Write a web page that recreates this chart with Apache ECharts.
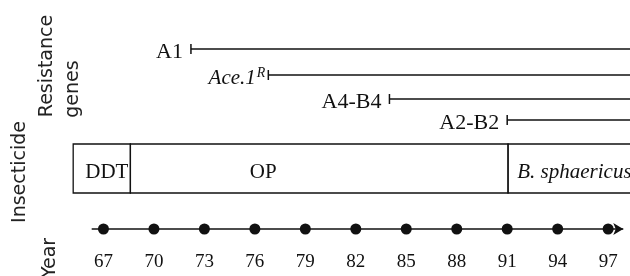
<!DOCTYPE html>
<html>
<head>
<meta charset="utf-8">
<script src="https://cdn.jsdelivr.net/npm/echarts@6/dist/echarts.min.js"></script>
<style>
  html, body { margin: 0; background: #fff; }
  #main { width: 630px; height: 276px; }
</style>
</head>
<body>
<div id="main"></div>
<script>
// 年份刻度
const years = [67, 70, 73, 76, 79, 82, 85, 88, 91, 94, 97]
const yearLabels = ['67', '70', '73', '76', '79', '82', '85', '88', '91', '94', '97']
// 抗性基因首次出现的年份
const geneNames = ['A1', 'Ace.1R', 'A4-B4', 'A2-B2']
const geneStart = [72.2, 76.8, 84.0, 91.0]
// 杀虫剂使用时期
const insecticides = ['DDT', 'OP', 'B. sphaericus']
const useFrom = [65.2, 68.6, 91.05]
const useTo = [68.6, 91.05, 100]

// 版面（纵向按像素行）
const X_MIN = 64, X_MAX = 98.3
const geneRow = [49, 75, 99, 120]
const boxTop = 144, boxBottom = 193, timeRow = 229
const labelAt = [67.2, 76.5, 91.6]
const labelAlign = ['center', 'center', 'left']
const INK = '#111'
const SERIF = '"Liberation Serif", "Times New Roman", serif'
const SANS = '"DejaVu Sans", sans-serif'

const myChart = echarts.init(document.getElementById('main'))

const option = {
  animation: false,
  backgroundColor: '#fff',
  grid: { left: 53, right: 0, top: 0, bottom: 0 },
  xAxis: { type: 'value', min: X_MIN, max: X_MAX, show: false },
  yAxis: { type: 'value', min: 0, max: 276, inverse: true, show: false },
  graphic: [
    { type: 'text', x: 47, y: 66, rotation: Math.PI / 2,
      style: { text: 'Resistance', align: 'center', verticalAlign: 'middle', fontFamily: SANS, fontSize: 19, fill: '#222' } },
    { type: 'text', x: 73, y: 89, rotation: Math.PI / 2,
      style: { text: 'genes', align: 'center', verticalAlign: 'middle', fontFamily: SANS, fontSize: 19, fill: '#222' } },
    { type: 'text', x: 20, y: 172, rotation: Math.PI / 2,
      style: { text: 'Insecticide', align: 'center', verticalAlign: 'middle', fontFamily: SANS, fontSize: 19, fill: '#222' } },
    { type: 'text', x: 50, y: 258, rotation: Math.PI / 2,
      style: { text: 'Year', align: 'center', verticalAlign: 'middle', fontFamily: SANS, fontSize: 19, fill: '#222' } }
  ],
  series: [
    // 抗性基因
    {
      type: 'custom',
      silent: true,
      data: geneNames.map((n, i) => [geneStart[i], geneRow[i]]),
      renderItem(params, api) {
        const i = params.dataIndex
        const p = api.coord([api.value(0), api.value(1)])
        const end = api.coord([X_MAX, api.value(1)])
        const isAce = geneNames[i] === 'Ace.1R'
        return {
          type: 'group',
          children: [
            { type: 'line', shape: { x1: p[0], y1: p[1], x2: end[0], y2: end[1] },
              style: { stroke: INK, lineWidth: 1.5 } },
            { type: 'line', shape: { x1: p[0], y1: p[1] - 5, x2: p[0], y2: p[1] + 5 },
              style: { stroke: INK, lineWidth: 1.5 } },
            { type: 'text', x: p[0] - (isAce ? 3 : 8), y: p[1] + 3,
              style: {
                text: isAce ? '{i|Ace.1}{s|R}' : geneNames[i],
                align: 'right', verticalAlign: 'middle',
                fontFamily: SERIF, fontSize: 22, fill: INK,
                rich: {
                  i: { fontFamily: SERIF, fontSize: 21, fontStyle: 'italic', fill: INK },
                  s: { fontFamily: SERIF, fontSize: 14, fontStyle: 'italic', fill: INK, verticalAlign: 'top', padding: [0, 0, 9, 1] }
                }
              } }
          ]
        }
      }
    },
    // 杀虫剂
    {
      type: 'custom',
      silent: true,
      data: insecticides.map((n, i) => [useFrom[i], useTo[i]]),
      renderItem(params, api) {
        const i = params.dataIndex
        const a = api.coord([api.value(0), boxTop])
        const b = api.coord([api.value(1), boxBottom])
        const t = api.coord([labelAt[i], (boxTop + boxBottom) / 2 + 4])
        return {
          type: 'group',
          children: [
            { type: 'rect', shape: { x: a[0], y: a[1], width: b[0] - a[0], height: b[1] - a[1] },
              style: { fill: 'none', stroke: INK, lineWidth: 1.3 } },
            { type: 'text', x: t[0], y: t[1],
              style: {
                text: insecticides[i], align: labelAlign[i], verticalAlign: 'middle',
                fontFamily: SERIF, fontSize: 21, fill: INK,
                fontStyle: i === 2 ? 'italic' : 'normal'
              } }
          ]
        }
      }
    },
    // 时间轴
    {
      type: 'scatter',
      silent: true,
      data: years.map((y) => [y, timeRow]),
      symbolSize: 11,
      itemStyle: { color: INK, opacity: 1 },
      z: 5,
      label: {
        show: true, position: 'bottom', distance: 18,
        formatter: (p) => yearLabels[p.dataIndex],
        fontFamily: SERIF, fontSize: 19, color: INK
      },
      markLine: {
        silent: true,
        symbol: ['none', 'arrow'],
        symbolSize: [9, 10],
        lineStyle: { color: INK, width: 1.5, type: 'solid', opacity: 1 },
        label: { show: false },
        emphasis: { disabled: true },
        data: [[{ coord: [66.3, timeRow] }, { coord: [97.9, timeRow] }]]
      }
    }
  ]
}

myChart.setOption(option)
window.onresize = function () {
  myChart.resize()
}
</script>
</body>
</html>
